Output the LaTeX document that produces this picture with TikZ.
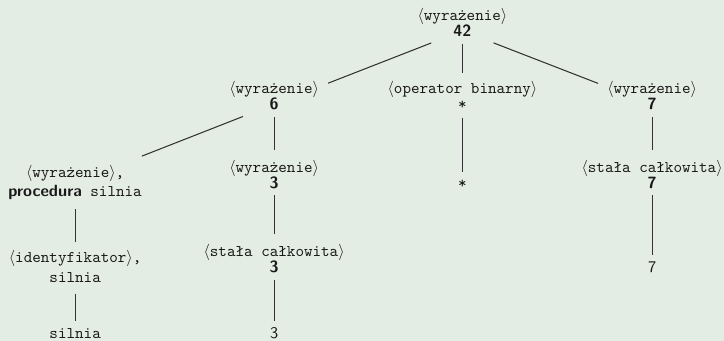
\documentclass[tikz,border=0pt]{standalone}
\definecolor{tlo}{HTML}{E4EDE4}
\newcommand{\nterm}[1]{$\langle$#1$\rangle$}
\tikzset{
  lab/.style={anchor=base, inner sep=0pt, text=black!90, font=\ttfamily},
  val/.style={anchor=base, inner sep=0pt, text=black!90, font=\sffamily\bfseries},
  term/.style={anchor=base, inner sep=0pt, text=black!90},
  box/.style={align=center, inner sep=0pt, text=black!90, font=\ttfamily},
  slant/.style={shorten <=20.5pt, shorten >=35.5pt},
  fromval/.style={shorten <=7.8pt},
  frombox/.style={shorten <=16.5pt},
  tolab/.style={shorten >=20.3pt},
  toleaf/.style={shorten >=7.6pt},
  tobox/.style={shorten >=15.2pt}
}
\begin{document}
\begin{tikzpicture}
\fill[tlo] (0,0) rectangle (15.61,7.35);
\useasboundingbox (0,0) rectangle (15.61,7.35);
% level 0
\node[lab] (rootl) at (9.97,6.90) {\nterm{wyrażenie}};
\node[val] (root) at (9.97,6.56) {42};
% level 1
\node[lab] (w6l) at (5.91,5.33) {\nterm{wyrażenie}};
\node[val] (w6) at (5.91,4.98) {6};
\node[lab] (opl) at (9.97,5.33) {\nterm{operator binarny}};
\node[val,font=\ttfamily] (op) at (9.97,4.98) {*};
\node[lab] (w7l) at (14.06,5.33) {\nterm{wyrażenie}};
\node[val] (w7) at (14.06,4.98) {7};
% level 2
\node[box] (proc) at (1.62,3.42) {\nterm{wyrażenie},\\{\sffamily\bfseries procedura} silnia};
\node[lab] (w3l) at (5.91,3.63) {\nterm{wyrażenie}};
\node[val] (w3) at (5.91,3.29) {3};
\node[term,font=\ttfamily] (star) at (9.97,3.29) {*};
\node[lab] (c7l) at (14.06,3.63) {\nterm{stała całkowita}};
\node[val] (c7) at (14.06,3.29) {7};
% level 3
\node[box] (ident) at (1.62,1.60) {\nterm{identyfikator},\\silnia};
\node[lab] (c3l) at (5.91,1.81) {\nterm{stała całkowita}};
\node[val] (c3) at (5.91,1.47) {3};
\node[term,font=\sffamily] (t7) at (14.06,1.47) {7};
% level 4
\node[term,font=\ttfamily] (tsilnia) at (1.62,0.05) {silnia};
\node[term,font=\sffamily] (t3) at (5.91,0.05) {3};
% edges
\begin{scope}[black!80, line width=.65pt]
\draw[slant] (root.center) -- (w6.center);
\draw[fromval,tolab] (root.center) -- (op.center);
\draw[slant] (root.center) -- (w7.center);
\draw[slant,shorten >=44pt] (w6.center) -- (proc.center);
\draw[fromval,tolab] (w6.center) -- (w3.center);
\draw[fromval,toleaf] (op.center) -- (star.center);
\draw[fromval,tolab] (w7.center) -- (c7.center);
\draw[frombox,tobox] (proc.center) -- (ident.center);
\draw[fromval,tolab] (w3.center) -- (c3.center);
\draw[fromval,toleaf] (c7.center) -- (t7.center);
\draw[frombox,toleaf] (ident.center) -- (tsilnia.center);
\draw[fromval,toleaf] (c3.center) -- (t3.center);
\end{scope}
\end{tikzpicture}
\end{document}
